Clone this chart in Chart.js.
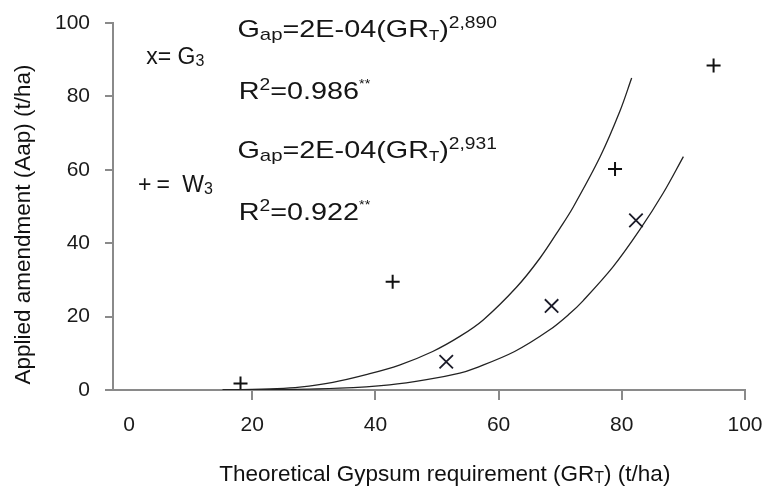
<!DOCTYPE html>
<html>
<head>
<meta charset="utf-8">
<script src="https://cdn.jsdelivr.net/npm/chart.js@4/dist/chart.umd.min.js"></script>
<style>
  html, body { margin: 0; padding: 0; background: #ffffff; }
  #wrap { width: 767px; height: 487px; position: relative; }
</style>
</head>
<body>
<div id="wrap"><canvas id="c" width="767" height="487"></canvas></div>
<script>
// ---- Data ----
const xTicks = [0, 20, 40, 60, 80, 100];
const yTicks = [0, 20, 40, 60, 80, 100];

// Observed points: x markers = G3, + markers = W3
const g3GypsumReq = [51.5, 68.6, 82.3];
const g3Applied   = [7.7, 22.9, 46.2];
const w3GypsumReq = [18.1, 42.8, 78.9, 94.9];
const w3Applied   = [1.8, 29.5, 60.2, 88.4];

// Fitted curves
const fitAGypsumReq = [15.2, 24.0, 27.7, 33.1, 38.5, 43.9, 49.3, 53.7, 57.5, 62.9, 66.7, 70.0, 72.1, 76.5, 79.7, 81.6];
const fitAApplied   = [0.0, 0.4, 0.8, 2.1, 4.2, 6.8, 10.5, 14.6, 19.1, 28.0, 35.9, 44.2, 49.8, 63.6, 76.0, 85.0];
const fitBGypsumReq = [15.2, 23.9, 34.2, 42.3, 48.3, 53.7, 56.1, 62.6, 68.3, 71.6, 73.7, 78.6, 82.9, 86.7, 90.0];
const fitBApplied   = [0.0, 0.1, 0.5, 1.4, 2.8, 4.6, 5.9, 10.5, 16.4, 20.9, 24.3, 33.6, 43.6, 53.6, 63.6];

// Text content
const xTitleParts = [{t: 'Theoretical Gypsum requirement (GR'}, {t: 'T', sub: true}, {t: ') (t/ha)'}];
const yTitleText = 'Applied amendment (Aap) (t/ha)';
const eq1Parts = [{t: 'G'}, {t: 'ap', sub: true}, {t: '=2E-04(GR'}, {t: 'T', sub: true, small: true}, {t: ')'}, {t: '2,890', sup: true}];
const r1Parts  = [{t: 'R'}, {t: '2', sup: true}, {t: '=0.986'}, {t: '**', sup2: true}];
const eq2Parts = [{t: 'G'}, {t: 'ap', sub: true}, {t: '=2E-04(GR'}, {t: 'T', sub: true, small: true}, {t: ')'}, {t: '2,931', sup: true}];
const r2Parts  = [{t: 'R'}, {t: '2', sup: true}, {t: '=0.922'}, {t: '**', sup2: true}];
const g3Parts  = [{t: 'x= G'}, {t: '3', sub: true}];
const w3Parts  = [{t: '+'}, {t: '=', dx: 5}, {t: ' W', dx: 6}, {t: '3', sub: true}];

// ---- Drawing helpers ----
const FAM = "'Liberation Sans', Arial, sans-serif";
function partSize(p, st) {
  if (p.sub) return p.small ? st.subSmall : st.sub;
  if (p.sup) return st.sup;
  if (p.sup2) return st.sup2;
  return st.base;
}
function drawRich(ctx, x, y, parts, st) {
  ctx.save();
  ctx.translate(x, y);
  ctx.scale(st.sx || 1, 1);
  ctx.fillStyle = st.color || '#111';
  ctx.textBaseline = 'alphabetic';
  ctx.textAlign = 'left';
  let cx = 0;
  for (const p of parts) {
    const size = partSize(p, st);
    let dy = 0;
    if (p.sub) dy = st.subOff;
    if (p.sup) dy = -st.supOff;
    if (p.sup2) dy = -st.sup2Off;
    if (p.dx) cx += p.dx;
    ctx.font = size + 'px ' + FAM;
    ctx.fillText(p.t, cx, dy);
    cx += ctx.measureText(p.t).width;
  }
  ctx.restore();
}
function richWidth(ctx, parts, st) {
  let w = 0;
  for (const p of parts) {
    ctx.font = partSize(p, st) + 'px ' + FAM;
    w += ctx.measureText(p.t).width + (p.dx || 0);
  }
  return w * (st.sx || 1);
}

const eqStyle = {base: 24, sx: 1.2, sub: 17, subSmall: 14, subOff: 3, sup: 16, supOff: 9, sup2: 12, sup2Off: 11, color: '#151515'};
const legStyle = {base: 23, sx: 1.0, sub: 16, subSmall: 16, subOff: 2, sup: 16, supOff: 9, sup2: 12, sup2Off: 11, color: '#151515'};
const titleStyle = {base: 22.5, sx: 1.0, sub: 16, subSmall: 16, subOff: 2, sup: 16, supOff: 9, sup2: 12, sup2Off: 11, color: '#111'};

// annotation anchors in data units (left edge, baseline)
const annotations = [
  {parts: g3Parts, at: [2.8, 88.8], style: legStyle},
  {parts: w3Parts, at: [1.45, 53.9], style: legStyle},
  {parts: eq1Parts, at: [17.6, 96.3], style: eqStyle},
  {parts: r1Parts, at: [17.8, 79.3], style: eqStyle},
  {parts: eq2Parts, at: [17.6, 63.2], style: eqStyle},
  {parts: r2Parts, at: [17.8, 46.4], style: eqStyle}
];

const textPlugin = {
  id: 'textPlugin',
  afterDraw(chart) {
    const ctx = chart.ctx;
    const xs = chart.scales.x, ys = chart.scales.y;
    for (const a of annotations) {
      drawRich(ctx, xs.getPixelForValue(a.at[0]), ys.getPixelForValue(a.at[1]), a.parts, a.style);
    }
    // x axis title
    const ca = chart.chartArea;
    const w = richWidth(ctx, xTitleParts, titleStyle);
    const cxT = ca.left + (ca.right - ca.left) * 0.525;
    drawRich(ctx, cxT - w / 2, chart.height - 6, xTitleParts, titleStyle);
    // y axis title
    ctx.save();
    ctx.translate(30, (ca.top + ca.bottom) / 2 + 18);
    ctx.rotate(-Math.PI / 2);
    ctx.font = '22.5px ' + FAM;
    ctx.fillStyle = '#111';
    ctx.textAlign = 'center';
    ctx.textBaseline = 'alphabetic';
    ctx.fillText(yTitleText, 0, 0);
    ctx.restore();
  }
};

const toPts = (xs, ys) => xs.map((x, i) => ({x: x, y: ys[i]}));
const AXIS = '#8a8a8a';

new Chart(document.getElementById('c'), {
  type: 'scatter',
  data: {
    datasets: [
      {label: 'Fit A', data: toPts(fitAGypsumReq, fitAApplied), showLine: true, pointRadius: 0,
       borderColor: '#222', borderWidth: 1.3, tension: 0.35, fill: false},
      {label: 'Fit B', data: toPts(fitBGypsumReq, fitBApplied), showLine: true, pointRadius: 0,
       borderColor: '#222', borderWidth: 1.3, tension: 0.35, fill: false},
      {label: 'G3', data: toPts(g3GypsumReq, g3Applied), pointStyle: 'crossRot', pointRadius: 9.5,
       borderColor: '#1b1b28', borderWidth: 1.8, backgroundColor: '#1b1b28'},
      {label: 'W3', data: toPts(w3GypsumReq, w3Applied), pointStyle: 'cross', pointRadius: 7,
       borderColor: '#111', borderWidth: 2, backgroundColor: '#111'}
    ]
  },
  options: {
    responsive: false,
    animation: false,
    events: [],
    layout: {padding: {left: 0, right: 22, top: 23, bottom: 0}},
    plugins: {legend: {display: false}, tooltip: {enabled: false}},
    font: {family: FAM},
    scales: {
      x: {
        type: 'linear', min: -2.6, max: 100,
        afterBuildTicks: s => { s.ticks = xTicks.map(v => ({value: v})); },
        afterFit: s => { s.height = 97; s.paddingLeft = 0; s.paddingRight = 0; },
        border: {display: true, color: AXIS, width: 2},
        grid: {drawOnChartArea: false, drawTicks: true, tickLength: 10,
               color: c => (c.tick && c.tick.value === 0) ? 'rgba(0,0,0,0)' : AXIS, lineWidth: 2},
        ticks: {color: '#1a1a1a', font: {family: FAM, size: 21}, padding: 13, maxRotation: 0}
      },
      y: {
        type: 'linear', min: 0, max: 100,
        afterBuildTicks: s => { s.ticks = yTicks.map(v => ({value: v})); },
        afterFit: s => { s.width = 113; s.paddingTop = 0; s.paddingBottom = 0; },
        border: {display: true, color: AXIS, width: 2},
        grid: {drawOnChartArea: false, drawTicks: true, tickLength: 8, color: AXIS, lineWidth: 2},
        ticks: {color: '#1a1a1a', font: {family: FAM, size: 21}, padding: 15}
      }
    }
  },
  plugins: [textPlugin]
});
</script>
</body>
</html>
